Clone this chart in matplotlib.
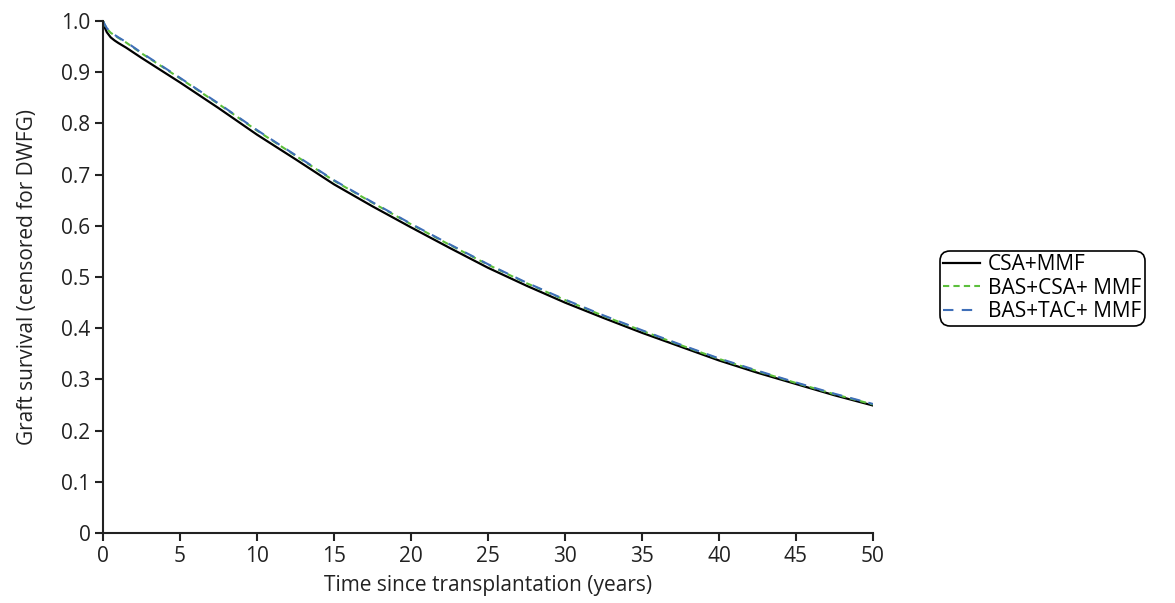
import matplotlib
matplotlib.use('Agg')

import matplotlib.pyplot as plt

# Years since transplantation
years = [0, 0.1, 0.25, 0.5, 0.75, 1, 1.5, 2.5, 5, 7.5, 10, 12.5, 15, 17.5, 20,
         22.5, 25, 27.5, 30, 32.5, 35, 37.5, 40, 42.5, 45, 47.5, 50]

# Graft survival (censored for DWFG)
csa_mmf = [1.0, 0.988, 0.978, 0.968, 0.962, 0.957, 0.948, 0.928, 0.880, 0.830,
           0.778, 0.730, 0.681, 0.638, 0.597, 0.557, 0.518, 0.483, 0.450, 0.420,
           0.391, 0.364, 0.337, 0.313, 0.291, 0.269, 0.249]
bas_csa_mmf = [1.0, 0.993, 0.985, 0.977, 0.972, 0.967, 0.958, 0.937, 0.888, 0.838,
               0.786, 0.737, 0.688, 0.645, 0.603, 0.563, 0.524, 0.488, 0.455, 0.424,
               0.395, 0.367, 0.340, 0.316, 0.293, 0.271, 0.251]
bas_tac_mmf = [1.0, 0.994, 0.986, 0.978, 0.973, 0.968, 0.959, 0.938, 0.889, 0.839,
               0.787, 0.738, 0.689, 0.646, 0.604, 0.564, 0.525, 0.489, 0.456, 0.425,
               0.396, 0.368, 0.341, 0.317, 0.294, 0.272, 0.252]

x_ticks = [0, 5, 10, 15, 20, 25, 30, 35, 40, 45, 50]
y_ticks = [0, 0.1, 0.2, 0.3, 0.4, 0.5, 0.6, 0.7, 0.8, 0.9, 1.0]
y_tick_labels = ['0', '0.1', '0.2', '0.3', '0.4', '0.5', '0.6', '0.7', '0.8', '0.9', '1.0']

plt.rcParams['font.family'] = ['Open Sans', 'DejaVu Sans']
FS = 15
TXT = '#222222'

fig = plt.figure(figsize=(11.75, 6.03), dpi=100)
ax = fig.add_axes([103 / 1175, 70 / 603, 770 / 1175, 512 / 603])

ax.plot(years, csa_mmf, color='black', linewidth=1.6, label='CSA+MMF')
ax.plot(years, bas_csa_mmf, color='#5cbf3c', linewidth=1.5,
        linestyle=(0, (3, 2)), label='BAS+CSA+ MMF')
ax.plot(years, bas_tac_mmf, color='#3f6fb8', linewidth=1.5,
        linestyle=(0, (5, 4)), label='BAS+TAC+ MMF')

ax.set_xlim(0, 50)
ax.set_ylim(0, 1.0)
ax.set_xticks(x_ticks)
ax.set_yticks(y_ticks)
ax.set_yticklabels(y_tick_labels)
ax.tick_params(direction='out', length=6, width=1.5, labelsize=FS, colors=TXT, pad=3)

for side in ['top', 'right']:
    ax.spines[side].set_visible(False)
for side in ['left', 'bottom']:
    ax.spines[side].set_linewidth(1.5)
    ax.spines[side].set_color(TXT)

ax.set_xlabel('Time since transplantation (years)', fontsize=FS, color=TXT, labelpad=6)
ax.set_ylabel('Graft survival (censored for DWFG)', fontsize=FS, color=TXT, labelpad=17)

leg = fig.legend(loc='center left', bbox_to_anchor=(940 / 1175, 0.522),
                 fontsize=FS, frameon=True, fancybox=True, handlelength=1.75,
                 borderpad=0.15, labelspacing=0.12, handletextpad=0.4,
                 borderaxespad=0)
frame = leg.get_frame()
frame.set_edgecolor('black')
frame.set_linewidth(1.2)
frame.set_alpha(1)
frame.set_boxstyle('round,pad=0.02,rounding_size=0.5')

fig.savefig('out.png', dpi=100)
plt.close(fig)
